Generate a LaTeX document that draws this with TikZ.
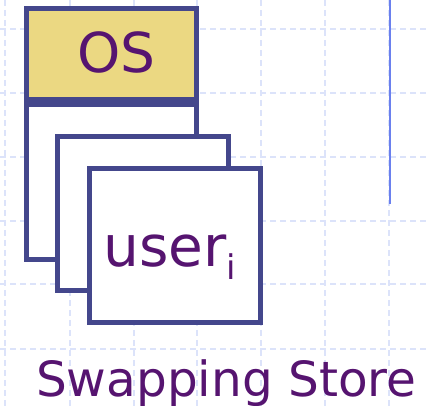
\documentclass[tikz,border=0pt]{standalone}
\usepackage{fontspec}
\setmainfont{DejaVu Sans}
\definecolor{gridblue}{HTML}{DCE3FA}
\definecolor{rulerblue}{HTML}{6A80EE}
\definecolor{boxedge}{HTML}{44478C}
\definecolor{osfill}{HTML}{EBD882}
\definecolor{textpurple}{HTML}{561470}
\tikzset{
  gridline/.style={gridblue, line width=1.6pt, dash pattern=on 6pt off 4pt},
  membox/.style={draw=boxedge, line width=5pt, fill=white},
  label/.style={inner sep=0pt, text=textpurple, anchor=base west},
}
\begin{document}
\begin{tikzpicture}[x=1pt, y=-1pt]
  \useasboundingbox (0,0) rectangle (429,406);
  % background grid
  \foreach \gx in {5,70,134,197,261,325,389}
    \draw[gridline] (\gx,0) -- (\gx,406);
  \foreach \gy in {29,93,157,221,284,349}
    \draw[gridline] (0,\gy) -- (429,\gy);
  % vertical ruler on the right
  \coordinate (rtop) at (390,0);
  \coordinate (rbot) at (390,204);
  \draw[rulerblue, line width=2pt] (rtop) -- (rbot);
  % stacked user partitions, back to front
  \draw[membox] (26,104.8) rectangle (196.5,259.5);
  \draw[membox] (57.5,136.8) rectangle (228.5,291);
  \draw[membox] (89.8,168.5) rectangle (260.8,323);
  % operating system block
  \draw[membox, fill=osfill] (26,9) rectangle (196.5,99.8);
  \node[label, anchor=base] (os) at (116.5,72.3) {\fontsize{55}{55}\selectfont OS};
  \node[label] (user) at (103,266.3) {\fontsize{56.5}{56.5}\selectfont user\raisebox{-13pt}{\fontsize{34}{34}\selectfont i}};
  \node[label] (store) at (36,396.3) {\fontsize{48.5}{48.5}\selectfont Swapping Store};
\end{tikzpicture}
\end{document}
